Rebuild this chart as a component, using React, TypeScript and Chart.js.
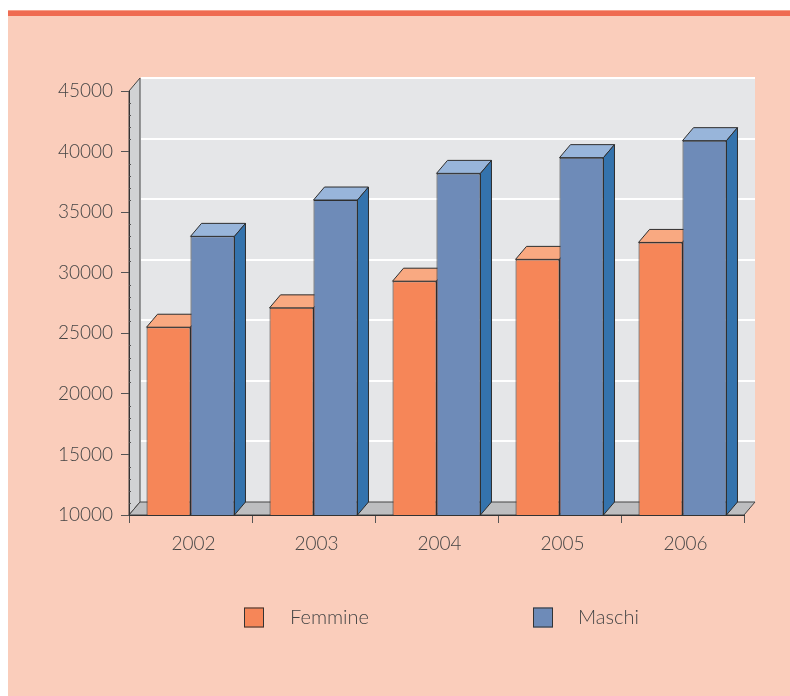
import React, { useEffect, useRef } from 'react';
import { Chart, registerables } from 'chart.js';

Chart.register(...registerables);

const years = ['2002', '2003', '2004', '2005', '2006'];
const femmine = [25500, 27100, 29300, 31100, 32500];
const maschi = [33000, 36000, 38200, 39500, 40900];
const yMin = 10000;
const yMax = 45000;
const yStep = 5000;
const yMinorStep = 1000;

const W = 790;
const H = 696;
const DX = 11;
const DY = 13;
const FONT = 'Lato, "Open Sans", sans-serif';
const TEXT = '#454545';
const EDGE = '#2e2e2e';

const faceColors = [
  { front: '#F68658', top: '#F9A981', side: '#D9673C' },
  { front: '#6E8BB8', top: '#98B5DA', side: '#3473AD' },
];

function poly(ctx: CanvasRenderingContext2D, pts: number[][], fill: string, stroke?: string) {
  ctx.beginPath();
  ctx.moveTo(pts[0][0], pts[0][1]);
  for (let i = 1; i < pts.length; i++) ctx.lineTo(pts[i][0], pts[i][1]);
  ctx.closePath();
  ctx.fillStyle = fill;
  ctx.fill();
  if (stroke) {
    ctx.strokeStyle = stroke;
    ctx.lineWidth = 1;
    ctx.stroke();
  }
}

const depthPlugin = {
  id: 'depth3d',
  beforeDraw(chart: any) {
    const { ctx, chartArea: a, scales } = chart;
    const y = scales.y;
    ctx.save();
    ctx.fillStyle = '#ffffff';
    ctx.fillRect(0, 0, W, H);
    ctx.fillStyle = '#FACDBB';
    ctx.fillRect(8, 10, W - 8, H - 10);
    ctx.fillStyle = '#F5A08A';
    ctx.fillRect(8, 10, W - 8, 1);
    ctx.fillStyle = '#EF6B51';
    ctx.fillRect(8, 11, W - 8, 5);

    // back wall
    ctx.fillStyle = '#E5E6E8';
    ctx.fillRect(a.left + DX, a.top - DY, a.right - a.left, a.bottom - a.top);
    // gridlines on back wall
    ctx.strokeStyle = '#ffffff';
    ctx.lineWidth = 2;
    y.ticks.forEach((t: any) => {
      if (t.value <= yMin) return;
      const yy = Math.round(y.getPixelForValue(t.value) - DY);
      ctx.beginPath();
      ctx.moveTo(a.left + DX + 1, yy);
      ctx.lineTo(a.right + DX, yy);
      ctx.stroke();
    });
    // left wall
    poly(ctx, [
      [a.left, a.bottom], [a.left, a.top], [a.left + DX, a.top - DY], [a.left + DX, a.bottom - DY],
    ], '#D1D2D4', '#444');
    // floor
    poly(ctx, [
      [a.left, a.bottom], [a.right, a.bottom], [a.right + DX, a.bottom - DY], [a.left + DX, a.bottom - DY],
    ], '#BDBEC0', '#444');
    ctx.restore();
  },
  beforeDatasetsDraw(chart: any) {
    const { ctx, chartArea: a } = chart;
    ctx.save();
    chart.data.datasets.forEach((ds: any, di: number) => {
      const meta = chart.getDatasetMeta(di);
      const c = faceColors[di];
      meta.data.forEach((el: any) => {
        const p = el.getProps(['x', 'y', 'base', 'width'], true);
        const x = p.x, y = p.y, width = p.width;
        const base = Math.min(p.base, a.bottom);
        const l = x - width / 2;
        const r = x + width / 2;
        poly(ctx, [[l, y], [l + DX, y - DY], [r + DX, y - DY], [r, y]], c.top, EDGE);
        poly(ctx, [[r, y], [r + DX, y - DY], [r + DX, base - DY], [r, base]], c.side, EDGE);
      });
    });
    ctx.restore();
  },
  afterDraw(chart: any) {
    const { ctx, chartArea: a, scales } = chart;
    const y = scales.y;
    ctx.save();
    // minor ticks on the y axis
    ctx.strokeStyle = '#555';
    ctx.lineWidth = 1;
    for (let v = yMin + yMinorStep; v < yMax; v += yMinorStep) {
      if (v % yStep === 0) continue;
      const yy = Math.round(y.getPixelForValue(v)) + 0.5;
      ctx.beginPath();
      ctx.moveTo(a.left, yy);
      ctx.lineTo(a.left + 2, yy);
      ctx.stroke();
    }
    // legend
    const items = [
      { box: 244, text: 290 },
      { box: 533, text: 578 },
    ];
    const cy = 617.5;
    ctx.font = `300 20px ${FONT}`;
    ctx.textBaseline = 'middle';
    ctx.textAlign = 'left';
    chart.data.datasets.forEach((ds: any, i: number) => {
      const it = items[i];
      ctx.fillStyle = ds.backgroundColor;
      ctx.fillRect(it.box, cy - 10, 20, 20);
      ctx.strokeStyle = '#333';
      ctx.lineWidth = 1;
      ctx.strokeRect(it.box + 0.5, cy - 9.5, 19, 19);
      ctx.fillStyle = TEXT;
      ctx.fillText(ds.label, it.text, cy);
    });
    ctx.restore();
  },
};

export default function App() {
  const ref = useRef<HTMLCanvasElement | null>(null);
  useEffect(() => {
    if (!ref.current) return;
    const tickFont = { family: FONT, size: 19, weight: 300 as any };
    const chart = new Chart(ref.current, {
      type: 'bar',
      data: {
        labels: years,
        datasets: [
          {
            label: 'Femmine',
            data: femmine,
            backgroundColor: faceColors[0].front,
            borderColor: EDGE,
            borderWidth: 1,
            borderSkipped: false,
            categoryPercentage: 0.715,
            barPercentage: 1.0,
          },
          {
            label: 'Maschi',
            data: maschi,
            backgroundColor: faceColors[1].front,
            borderColor: EDGE,
            borderWidth: 1,
            borderSkipped: false,
            categoryPercentage: 0.715,
            barPercentage: 1.0,
          },
        ],
      },
      options: {
        responsive: false,
        animation: false,
        devicePixelRatio: 1,
        layout: { padding: { top: 91, right: 46, bottom: 121, left: 0 } },
        plugins: { legend: { display: false }, tooltip: { enabled: false } },
        scales: {
          x: {
            grid: { display: true, drawOnChartArea: false, offset: true, tickLength: 8, color: '#555' },
            border: { display: true, color: '#333', width: 1 },
            ticks: { font: tickFont, color: TEXT, padding: 9, labelOffset: 3 },
            afterFit: (s: any) => { s.height = 60; },
          },
          y: {
            min: yMin,
            max: yMax,
            ticks: { stepSize: yStep, font: tickFont, color: TEXT, padding: 8, callback: (v: any) => String(v) },
            grid: { drawOnChartArea: false, tickLength: 8, color: '#555' },
            border: { display: true, color: '#333', width: 1 },
            afterFit: (s: any) => { s.width = 129; },
          },
        },
      },
      plugins: [depthPlugin],
    });
    return () => chart.destroy();
  }, []);
  return (
    <div style={{ position: 'fixed', left: 0, top: 0, width: W, height: H }}>
      <canvas ref={ref} width={W} height={H} style={{ display: 'block', width: W, height: H }} />
    </div>
  );
}
